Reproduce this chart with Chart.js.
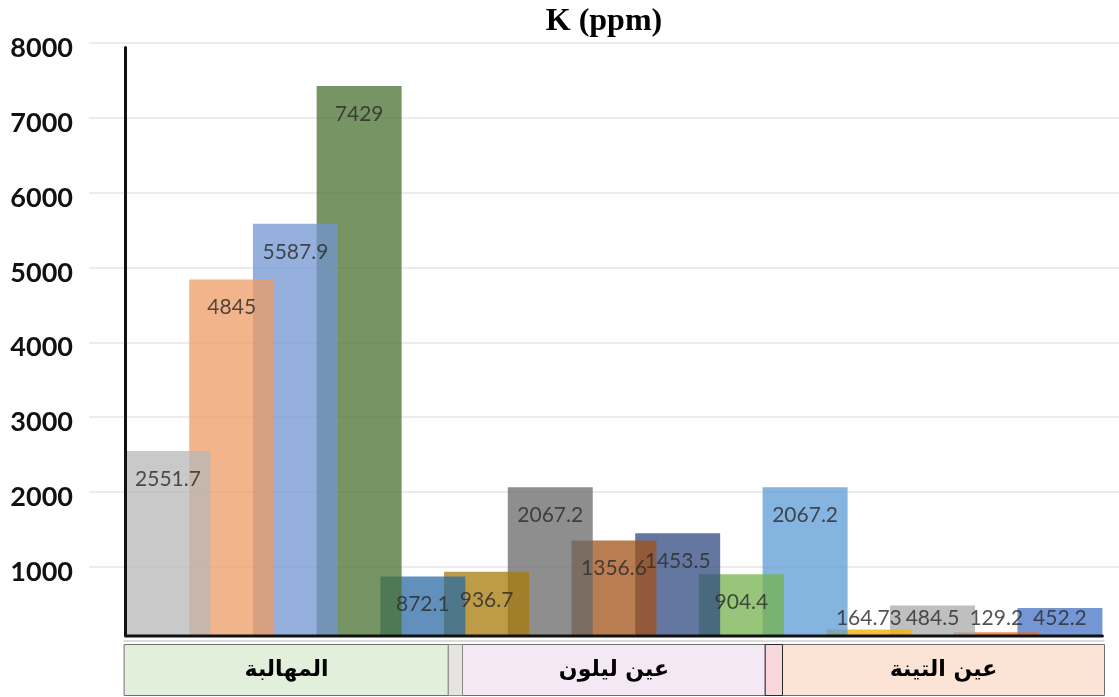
<!DOCTYPE html>
<html lang="ar">
<head>
<meta charset="utf-8">
<title>K (ppm)</title>
<script src="https://cdn.jsdelivr.net/npm/chart.js@4.4.1/dist/chart.umd.min.js"></script>
<style>
  html, body { margin: 0; padding: 0; background: #fff; }
  #wrap { width: 1119px; height: 697px; position: relative; }
</style>
</head>
<body>
<div id="wrap"><canvas id="chart" width="1119" height="697"></canvas></div>
<script>
// Potassium concentration (ppm), five samples for each site
const sites = ['المهالبة', 'عين ليلون', 'عين التينة'];
const samplesPerSite = 5;
const potassium = [
  2551.7, 4845, 5587.9, 7429, 872.1,
  936.7, 2067.2, 1356.6, 1453.5, 904.4,
  2067.2, 164.73, 484.5, 129.2, 452.2
];
const yTicks = [1000, 2000, 3000, 4000, 5000, 6000, 7000, 8000];
const chartTitle = 'K (ppm)';

// Translucent fill for each sample bar
const barColors = [
  'rgba(183,183,183,0.75)', 'rgba(238,155,99,0.75)', 'rgba(114,150,208,0.75)', 'rgba(74,112,50,0.75)', 'rgba(43,107,164,0.75)',
  'rgba(168,121,8,0.75)', 'rgba(104,104,104,0.75)', 'rgba(163,82,24,0.75)', 'rgba(47,74,128,0.75)', 'rgba(116,179,79,0.75)',
  'rgba(92,155,214,0.75)', 'rgba(240,178,10,0.8)', 'rgba(170,170,170,0.75)', 'rgba(235,102,35,0.75)', 'rgba(71,115,198,0.75)'
];
const siteFills = ['#e2efda', '#f5e8f5', '#fbe4d5'];
const separatorFills = ['#e6e4e0', '#f7d6dc'];
const separatorStrokes = ['#8a8a8a', '#2a2a2a'];
const separatorHalfWidths = [7, 8.5];

// Axis lines, value labels and the site boxes under the bars
const decorations = {
  id: 'decorations',
  afterDatasetsDraw(chart) {
    const { ctx, chartArea, scales: { x } } = chart;
    const bars = chart.data.datasets.map((d, i) => chart.getDatasetMeta(i).data[0]);
    const first = bars[0];
    const last = bars[bars.length - 1];
    const left = first.x - first.width / 2;
    const right = last.x + last.width / 2;

    ctx.save();

    // value labels
    ctx.font = '21px Lato';
    ctx.fillStyle = 'rgba(45,45,45,0.82)';
    ctx.textAlign = 'center';
    ctx.textBaseline = 'middle';
    bars.forEach((bar, i) => {
      const y = Math.min(bar.y + 28, chartArea.bottom - 19);
      ctx.fillText(String(potassium[i]), bar.x, y);
    });

    // axis lines
    ctx.strokeStyle = '#111';
    ctx.lineWidth = 3;
    ctx.lineJoin = 'round';
    ctx.lineCap = 'round';
    ctx.beginPath();
    ctx.moveTo(left, chartArea.top + 4);
    ctx.lineTo(left, chartArea.bottom - 1);
    ctx.lineTo(right, chartArea.bottom - 1);
    ctx.stroke();

    // thin rule under the axis
    ctx.fillStyle = '#dcdcdc';
    ctx.fillRect(left - 2, chartArea.bottom + 3, right - left + 4, 2);

    // site boxes
    const boxTop = Math.round(chartArea.bottom + 7) + 0.5;
    const boxBottom = chart.height - 1.5;
    const seps = [];
    for (let s = 1; s < sites.length; s++) {
      seps.push(x.getPixelForValue(s * samplesPerSite - 0.5));
    }
    ctx.lineWidth = 1;
    sites.forEach((name, s) => {
      const l = s === 0 ? left - 2 : seps[s - 1] + separatorHalfWidths[s - 1];
      const r = s === sites.length - 1 ? right + 2 : seps[s] - separatorHalfWidths[s];
      const L = Math.round(l) + 0.5, R = Math.round(r) + 0.5;
      ctx.fillStyle = siteFills[s];
      ctx.fillRect(L, boxTop, R - L, boxBottom - boxTop);
      ctx.strokeStyle = '#6e6e6e';
      ctx.strokeRect(L, boxTop, R - L, boxBottom - boxTop);
      ctx.fillStyle = '#000';
      ctx.font = 'bold 22px "DejaVu Sans"';
      ctx.direction = 'rtl';
      ctx.textAlign = 'center';
      ctx.textBaseline = 'middle';
      ctx.fillText(name, (L + R) / 2, (boxTop + boxBottom) / 2);
      ctx.direction = 'ltr';
    });
    seps.forEach((px, k) => {
      const L = Math.round(px - separatorHalfWidths[k]) + 0.5;
      const R = Math.round(px + separatorHalfWidths[k]) + 0.5;
      ctx.fillStyle = separatorFills[k];
      ctx.fillRect(L, boxTop, R - L, boxBottom - boxTop);
      ctx.strokeStyle = separatorStrokes[k];
      ctx.strokeRect(L, boxTop, R - L, boxBottom - boxTop);
    });

    ctx.restore();
  }
};

new Chart(document.getElementById('chart'), {
  type: 'bar',
  data: {
    datasets: potassium.map((v, i) => ({
      label: String(v),
      data: [{ x: i, y: v }],
      backgroundColor: barColors[i],
      borderWidth: 0,
      grouped: false,
      barPercentage: 1.334,
      categoryPercentage: 1
    }))
  },
  options: {
    responsive: false,
    animation: false,
    devicePixelRatio: 1,
    layout: { padding: { left: 0, right: 0, top: 0, bottom: 60 } },
    plugins: {
      legend: { display: false },
      tooltip: { enabled: false },
      title: {
        display: true,
        fullSize: false,
        text: chartTitle,
        color: '#000',
        font: { family: '"Liberation Serif"', size: 32, weight: 'bold' },
        padding: { top: 3, bottom: 2 }
      }
    },
    scales: {
      x: {
        type: 'linear',
        display: false,
        offset: false,
        grid: { offset: false },
        min: -1.24,
        max: 14.927,
        afterBuildTicks: s => { s.ticks = potassium.map((_, i) => ({ value: i })); }
      },
      y: {
        min: 65,
        max: 8000,
        afterBuildTicks: s => { s.ticks = yTicks.map(v => ({ value: v })); },
        afterFit: s => { s.width = 89; },
        grid: { color: '#ececec', lineWidth: 2, drawTicks: false },
        border: { display: false },
        ticks: {
          padding: 16,
          labelOffset: 5,
          color: '#111',
          font: { family: 'Lato', size: 27, weight: 'bold' },
          callback: v => String(v)
        }
      }
    }
  },
  plugins: [decorations]
});
</script>
</body>
</html>
